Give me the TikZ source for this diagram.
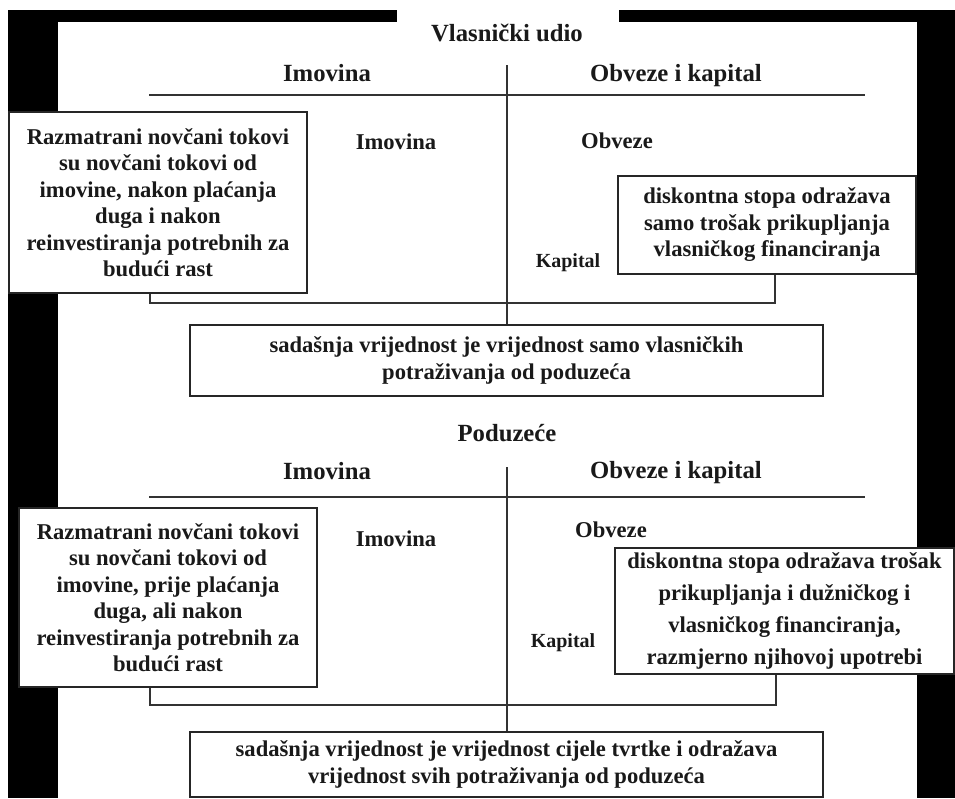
\documentclass[tikz,border=0pt]{standalone}
\usepackage{fontspec}
\setmainfont{Liberation Serif}
\tikzset{
  ln/.style={draw=black!80, line width=1.6pt},
  box/.style={draw=black!85, line width=1.6pt, fill=white, inner sep=0pt, align=center,
    font=\fontsize{22.6}{26.5}\selectfont\bfseries, text=black!90},
  hdr/.style={inner sep=0pt, anchor=base, font=\fontsize{24.7}{28}\selectfont\bfseries, text=black!90},
  lbl/.style={inner sep=0pt, anchor=base, font=\fontsize{22.6}{26}\selectfont\bfseries, text=black!90},
  smalllbl/.style={inner sep=0pt, anchor=base, font=\fontsize{20}{24}\selectfont\bfseries, text=black!90},
}
\begin{document}
\begin{tikzpicture}[x=1pt,y=-1pt]
\fill[white] (0,0) rectangle (955,798);
\useasboundingbox (0,0) rectangle (955,798);
% black frame
\fill[black] (8,10) rectangle (397,22);
\fill[black] (8,10) rectangle (58,798);
\fill[black] (619,10) rectangle (955,22);
\fill[black] (917,10) rectangle (955,798);

% ===== block 1 =====
\node[hdr] (t1) at (507,41) {Vlasnički udio};
\node[hdr] (h1l) at (327,81) {Imovina};
\node[hdr] (h1r) at (676,81) {Obveze i kapital};
\coordinate (hl1) at (149,95);
\coordinate (hr1) at (865,95);
\coordinate (vt1) at (507,65);
\node[box, minimum width=298pt, minimum height=181pt] (lb1) at (158,202.5)
  {Razmatrani novčani tokovi\\su novčani tokovi od\\imovine, nakon plaćanja\\duga i nakon\\reinvestiranja potrebnih za\\budući rast};
\node[box, minimum width=298pt, minimum height=98pt] (rb1) at (767,225)
  {diskontna stopa odražava\\samo trošak prikupljanja\\vlasničkog financiranja};
\node[box, minimum width=633pt, minimum height=71pt] (bb1) at (506.5,360.5)
  {sadašnja vrijednost je vrijednost samo vlasničkih\\potraživanja od poduzeća};
\node[lbl] (i1) at (396,149) {Imovina};
\node[lbl] (o1) at (617,148) {Obveze};
\node[smalllbl] (k1) at (568,267) {Kapital};
\coordinate (bl1) at (150,303);
\coordinate (br1) at (775,303);
\draw[ln] (hl1) -- (hr1);
\draw[ln] (vt1) -- (vt1 |- bb1.north);
\draw[ln] (lb1.south -| bl1) -- (bl1) -- (br1) -- (rb1.south -| br1);

% ===== block 2 =====
\node[hdr] (t2) at (507,441) {Poduzeće};
\node[hdr] (h2l) at (327,479) {Imovina};
\node[hdr] (h2r) at (676,478) {Obveze i kapital};
\coordinate (hl2) at (149,497);
\coordinate (hr2) at (865,497);
\coordinate (vt2) at (507,467);
\node[box, minimum width=298pt, minimum height=179pt] (lb2) at (168,597.5)
  {Razmatrani novčani tokovi\\su novčani tokovi od\\imovine, prije plaćanja\\duga, ali nakon\\reinvestiranja potrebnih za\\budući rast};
\node[box, minimum width=339pt, minimum height=126pt, font=\fontsize{22.6}{32}\selectfont\bfseries] (rb2) at (784.5,611)
  {diskontna stopa odražava trošak\\prikupljanja i dužničkog i\\vlasničkog financiranja,\\razmjerno njihovoj upotrebi};
\node[box, minimum width=633pt, minimum height=65pt] (bb2) at (506.5,764.5)
  {sadašnja vrijednost je vrijednost cijele tvrtke i odražava\\vrijednost svih potraživanja od poduzeća};
\node[lbl] (i2) at (396,546) {Imovina};
\node[lbl] (o2) at (611,537) {Obveze};
\node[smalllbl] (k2) at (563,647) {Kapital};
\coordinate (bl2) at (150,705);
\coordinate (br2) at (776,705);
\draw[ln] (hl2) -- (hr2);
\draw[ln] (vt2) -- (vt2 |- bb2.north);
\draw[ln] (lb2.south -| bl2) -- (bl2) -- (br2) -- (rb2.south -| br2);
\end{tikzpicture}
\end{document}
